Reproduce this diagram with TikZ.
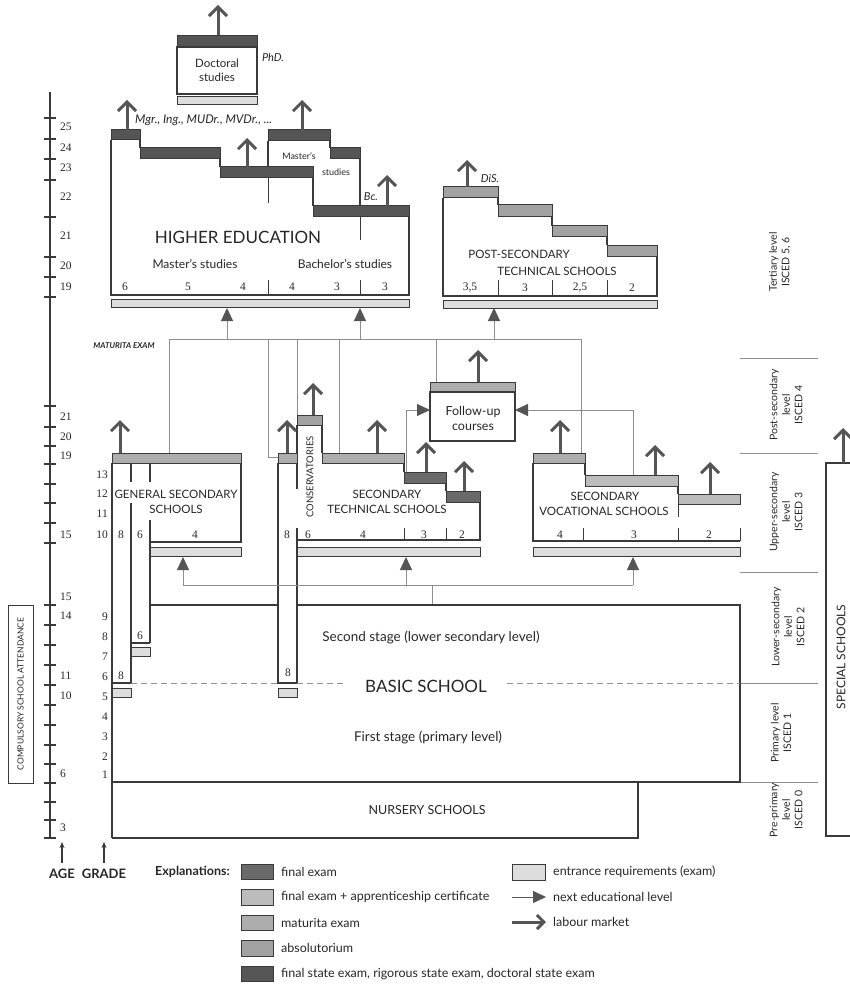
\documentclass[tikz,border=0pt]{standalone}
\usepackage{fontspec}
\setmainfont{Lato}
\newfontfamily\numfont{Liberation Serif}
\usetikzlibrary{arrows.meta}
\definecolor{ink}{HTML}{3A3A3A}
\definecolor{txt}{HTML}{262626}
\definecolor{linkgray}{HTML}{8E8E8E}
\definecolor{tipgray}{HTML}{555555}
\definecolor{cFinal}{HTML}{6A6A6A}
\definecolor{cAppr}{HTML}{BCBCBC}
\definecolor{cMat}{HTML}{ADADAD}
\definecolor{cAbs}{HTML}{A2A2A2}
\definecolor{cState}{HTML}{555555}
\definecolor{cEntr}{HTML}{DDDDDD}
\newcommand\sz[2]{\fontsize{#1}{#2}\selectfont}

\begin{document}
\begin{tikzpicture}[x=1pt,y=-1pt,
  boxline/.style={draw=ink,line width=1.5pt},
  thinline/.style={draw=ink,line width=0.8pt},
  exambar/.style={draw=ink,line width=1pt},
  link/.style={draw=linkgray,line width=1pt},
  nextlvl/.style={link,-{Triangle[length=13pt,width=12pt,color=tipgray]}},
  labour/.style={draw=tipgray,line width=3pt,-{Straight Barb[length=9pt,width=18pt,line width=3pt]}},
  lbl/.style={text=txt,inner sep=0pt},
  numtxt/.style={lbl,font=\numfont\sz{11.5}{13}},
  caps/.style={lbl,font=\sz{11.5}{15},align=center},
  isced/.style={lbl,font=\sz{10.5}{12.5},align=center,rotate=90},
  keytxt/.style={lbl,font=\sz{12.5}{14},anchor=west},
  divider/.style={draw=linkgray,line width=0.9pt},
]
\useasboundingbox (0,0) rectangle (850,984);

% ---------- age axis and grade numbers ----------
\draw[ink,line width=1.2pt] (50,92) -- (50,838);
\foreach \yy in {118,139,159,180,217,257,277,297,406,427,446,464,484,503,523,543,605,625,645,665,685,705,725,745,764,783,802,820,838}
  \draw[ink,line width=1.4pt] (44,\yy) -- (56,\yy);
\foreach \lab/\yy in {25/127,24/148,23/168,22/197,21/236,20/266,19/287,21/417,20/437,19/456,15/535,15/597,14/616,11/676,10/696,6/774,3/828}
  \node[numtxt,anchor=west] (age-\yy) at (60,\yy) {\lab};
\foreach \lab/\yy in {13/475,12/494,11/514,10/535,9/617,8/637,7/657,6/677,5/697,4/717,3/737,2/757,1/775}
  \node[numtxt,anchor=east] (grade-\yy) at (108,\yy) {\lab};

% compulsory attendance frame
\draw[thinline] (8,605) rectangle (33,783);
\node[lbl,font=\sz{8.5}{10},rotate=90] (compulsory) at (20.5,694) {COMPULSORY SCHOOL ATTENDANCE};

% axis captions
\coordinate (ageFoot) at (62,863);
\coordinate (ageTip) at (62,842);
\coordinate (gradeFoot) at (104,863);
\coordinate (gradeTip) at (104,842);
\draw[ink,line width=1.2pt,-{Stealth[length=6pt,width=5pt]}] (ageFoot) -- (ageTip);
\draw[ink,line width=1.2pt,-{Stealth[length=6pt,width=5pt]}] (gradeFoot) -- (gradeTip);
\node[lbl,font=\bfseries\sz{13}{15}] (ageCap) at (62,874) {AGE};
\node[lbl,font=\bfseries\sz{13}{15}] (gradeCap) at (104,874) {GRADE};

% ---------- doctoral studies ----------
\coordinate (docTop) at (218,36);
\coordinate (docOut) at (218,5);
\draw[labour] (docTop) -- (docOut);
\filldraw[exambar,fill=cState] (177,36) rectangle (257,47);
\draw[boxline] (177,47) rectangle (257,94);
\filldraw[exambar,fill=cEntr] (177,97) rectangle (257,105);
\node[lbl,font=\sz{11.5}{14},align=center] (doc) at (217,70) {Doctoral\\studies};
\node[lbl,font=\itshape\sz{11}{13}] (phd) at (273,57) {PhD.};

% ---------- higher education ----------
\draw[boxline] (111,140) -- (111,295) -- (409,295) -- (409,217);
\draw[boxline] (140,140)--(140,148) (220,159)--(220,167) (313,178)--(313,206)
  (268,141)--(268,167) (330,141)--(330,148) (360,159)--(360,206);
\draw[thinline] (268,178)--(268,203) (360,217)--(360,240) (268,280)--(268,295) (360,280)--(360,295);
\filldraw[exambar,fill=cState] (111,130) rectangle (140,140);
\filldraw[exambar,fill=cState] (140,148) rectangle (220,159);
\filldraw[exambar,fill=cState] (220,167) rectangle (313,178);
\filldraw[exambar,fill=cState] (313,206) rectangle (409,217);
\filldraw[exambar,fill=cState] (268,130) rectangle (330,141);
\filldraw[exambar,fill=cState] (330,148) rectangle (360,159);
\filldraw[exambar,fill=cEntr] (111,299) rectangle (409,307);
\draw[labour] (127,130) -- (127,100);
\draw[labour] (247,167) -- (247,138);
\draw[labour] (302,130) -- (302,100);
\draw[labour] (387,206) -- (387,175);
\node[lbl,font=\itshape\sz{12}{14},anchor=west] (degrees) at (135,120) {Mgr., Ing., MUDr., MVDr., ...};
\node[lbl,font=\sz{9}{10}] (mastersA) at (299,156) {Master’s};
\node[lbl,font=\sz{9}{10}] (mastersB) at (336,172) {studies};
\node[lbl,font=\itshape\sz{11}{13}] (bc) at (371,197) {Bc.};
\node[lbl,font=\sz{17}{20}] (he) at (238,237) {HIGHER EDUCATION};
\node[lbl,font=\sz{12}{14}] (heM) at (195,264) {Master’s studies};
\node[lbl,font=\sz{12}{14}] (heB) at (345,264) {Bachelor’s studies};
\foreach \lab/\xx in {6/125,5/188,4/243,4/292,3/337,3/385}
  \node[numtxt] (he-\xx) at (\xx,287) {\lab};

% ---------- post-secondary technical schools ----------
\draw[boxline] (443,198)--(443,296)--(657,296)--(657,256);
\draw[boxline] (498,198)--(498,205) (552,217)--(552,226) (607,237)--(607,245);
\draw[thinline] (498,280)--(498,296) (552,280)--(552,296) (607,280)--(607,296);
\filldraw[exambar,fill=cAbs] (443,187) rectangle (498,198);
\filldraw[exambar,fill=cAbs] (498,205) rectangle (552,217);
\filldraw[exambar,fill=cAbs] (552,226) rectangle (607,237);
\filldraw[exambar,fill=cAbs] (607,245) rectangle (657,256);
\filldraw[exambar,fill=cEntr] (443,300) rectangle (657,308);
\draw[labour] (467,187) -- (467,160);
\node[lbl,font=\itshape\sz{11}{13}] (dis) at (490,179) {DiS.};
\node[caps] (pstA) at (519,254) {POST-SECONDARY};
\node[caps] (pstB) at (557,271) {TECHNICAL SCHOOLS};
\foreach \lab/\xx in {{3,5}/470,3/525,{2,5}/580,2/632}
  \node[numtxt] (pst-\xx) at (\xx,288) {\lab};

% ---------- level labels on the right ----------
\foreach \yy in {358,453,572}
  \draw[divider] (740,\yy) -- (818,\yy);
\draw[divider] (740,683) -- (818,683);
\draw[divider] (740,782) -- (818,782);
\node[isced] (isced56) at (780,262) {Tertiary level\\ISCED 5, 6};
\node[isced] (isced4) at (786,405) {Post-secondary\\level\\ISCED 4};
\node[isced] (isced3) at (786,512) {Upper-secondary\\level\\ISCED 3};
\node[isced] (isced2) at (788,627) {Lower-secondary\\level\\ISCED 2};
\node[isced] (isced1) at (781,733) {Primary level\\ISCED 1};
\node[isced] (isced0) at (786,810) {Pre-primary\\level\\ISCED 0};

% ---------- maturita links to tertiary level ----------
\coordinate (mL) at (169,339);
\coordinate (mR) at (581,339);
\draw[link] (mL) -- (mR);
\draw[link] (169,453) -- (mL);
\draw[nextlvl] (227,339) -- (227,308);
\draw[link] (268,339) -- (268,457) -- (278,457);
\draw[link] (297,339) -- (297,415);
\draw[link] (339,339) -- (339,453);
\draw[nextlvl] (360,339) -- (360,308);
\draw[link] (436,339) -- (436,382);
\draw[nextlvl] (494,339) -- (494,308);
\draw[link] (mR) -- (581,453);
\node[lbl,font=\bfseries\itshape\sz{8}{9}] (maturita) at (124,346) {MATURITA EXAM};

% ---------- general secondary schools ----------
\filldraw[exambar,fill=cMat] (112,453) rectangle (241,463);
\draw[boxline] (241,463)--(241,542)--(150,542);
\draw[boxline] (112,463)--(112,838);
\draw[boxline] (131,463)--(131,482) (131,503)--(131,683) (112,683)--(131,683);
\draw[boxline] (150,463)--(150,482) (150,520)--(150,643) (131,643)--(150,643);
\filldraw[exambar,fill=cEntr] (150,547) rectangle (241,556);
\filldraw[exambar,fill=cEntr] (131,647) rectangle (150,656);
\filldraw[exambar,fill=cEntr] (112,688) rectangle (131,697);
\draw[labour] (120,453) -- (120,420);
\node[caps] (gsA) at (176,494) {GENERAL SECONDARY};
\node[caps] (gsB) at (176,509) {SCHOOLS};
\node[numtxt] (gs8) at (121,535) {8};
\node[numtxt] (gs6) at (140,535) {6};
\node[numtxt] (gs4) at (195,535) {4};
\node[numtxt] (bs8a) at (121,676) {8};
\node[numtxt] (bs6) at (140,636) {6};

% ---------- conservatories and secondary technical schools ----------
\draw[boxline] (278,463)--(278,683)--(297,683);
\draw[boxline] (297,425)--(297,489) (297,528)--(297,683) (322,425)--(322,453);
\draw[boxline] (404,463)--(404,472) (446,483)--(446,491) (480,502)--(480,540)--(297,540);
\draw[thinline] (404,528)--(404,540) (446,528)--(446,540);
\filldraw[exambar,fill=cMat] (278,453) rectangle (297,463);
\filldraw[exambar,fill=cAbs] (297,415) rectangle (322,425);
\filldraw[exambar,fill=cMat] (322,453) rectangle (404,463);
\filldraw[exambar,fill=cFinal] (404,472) rectangle (446,483);
\filldraw[exambar,fill=cFinal] (446,491) rectangle (480,502);
\filldraw[exambar,fill=cEntr] (297,547) rectangle (480,556);
\filldraw[exambar,fill=cEntr] (278,688) rectangle (297,697);
\draw[labour] (287,453) -- (287,420);
\draw[labour] (313,415) -- (313,383);
\draw[labour] (377,453) -- (377,420);
\draw[labour] (426,472) -- (426,442);
\draw[labour] (464,491) -- (464,461);
\node[lbl,font=\sz{9.5}{11},rotate=90] (cons) at (310,477) {CONSERVATORIES};
\node[caps] (stA) at (387,494) {SECONDARY};
\node[caps] (stB) at (387,509) {TECHNICAL SCHOOLS};
\foreach \lab/\xx in {8/287,6/308,4/363,3/424,2/462}
  \node[numtxt] (st-\xx) at (\xx,535) {\lab};
\node[numtxt] (bs8b) at (288,673) {8};

% ---------- follow-up courses ----------
\filldraw[exambar,fill=cMat] (430,382) rectangle (515,392);
\draw[boxline] (430,392) rectangle (515,441);
\node[lbl,font=\sz{12.5}{15},align=center] (follow) at (473,418) {Follow-up\\courses};
\draw[labour] (478,382) -- (478,350);
\draw[nextlvl] (406,472) -- (406,410) -- (430,410);
\draw[nextlvl] (633,475) -- (633,410) -- (515,410);

% ---------- secondary vocational schools ----------
\draw[boxline] (533,463)--(533,541)--(740,541);
\draw[boxline] (585,463)--(585,475) (678,486)--(678,494);
\draw[thinline] (583,528)--(583,541) (678,504)--(678,517) (678,528)--(678,541) (740,528)--(740,541);
\filldraw[exambar,fill=cMat] (533,453) rectangle (585,463);
\filldraw[exambar,fill=cAppr] (585,475) rectangle (678,486);
\filldraw[exambar,fill=cAppr] (678,494) rectangle (740,504);
\filldraw[exambar,fill=cEntr] (533,547) rectangle (740,556);
\draw[labour] (560,453) -- (560,420);
\draw[labour] (655,475) -- (655,445);
\draw[labour] (710,494) -- (710,462);
\node[caps] (svA) at (605,496) {SECONDARY};
\node[caps] (svB) at (604,511) {VOCATIONAL SCHOOLS};
\foreach \lab/\xx in {4/560,3/634,2/709}
  \node[numtxt] (sv-\xx) at (\xx,535) {\lab};

% ---------- basic school to upper secondary ----------
\coordinate (bsOut) at (432,605);
\coordinate (bsFork) at (432,585);
\draw[link] (bsOut) -- (bsFork);
\draw[link] (183,585) -- (633,585);
\draw[nextlvl] (183,585) -- (183,557);
\draw[nextlvl] (406,585) -- (406,557);
\draw[nextlvl] (633,585) -- (633,557);

% ---------- basic school and nursery schools ----------
\draw[boxline] (150,605)--(278,605) (297,605)--(740,605)--(740,782)--(112,782);
\draw[boxline] (638,782)--(638,838)--(112,838);
\draw[link,dash pattern=on 6pt off 4pt] (131,683)--(278,683) (297,683)--(343,683) (507,683)--(740,683);
\node[lbl,font=\sz{13.5}{15}] (second) at (431,637) {Second stage (lower secondary level)};
\node[lbl,font=\sz{17}{20}] (basic) at (426,686) {BASIC SCHOOL};
\node[lbl,font=\sz{13.5}{15}] (first) at (428,737) {First stage (primary level)};
\node[lbl,font=\sz{12.5}{14}] (nursery) at (427,810) {NURSERY SCHOOLS};

% ---------- special schools ----------
\draw[boxline] (852,463) -- (826,463) -- (826,836) -- (852,836);
\draw[labour] (843,463) -- (843,428);
\node[lbl,font=\sz{12}{14},rotate=90] (special) at (841,657) {SPECIAL SCHOOLS};

% ---------- key ----------
\node[lbl,font=\bfseries\sz{12.5}{14},anchor=west] (expl) at (155,872) {Explanations:};
\filldraw[exambar,fill=cFinal] (241,864) rectangle (273,879);
\filldraw[exambar,fill=cAppr] (241,889) rectangle (273,905);
\filldraw[exambar,fill=cMat] (241,915) rectangle (273,930);
\filldraw[exambar,fill=cAbs] (241,940) rectangle (273,956);
\filldraw[exambar,fill=cState] (241,966) rectangle (273,981);
\node[keytxt] (k1) at (281,872) {final exam};
\node[keytxt] (k2) at (281,897) {final exam + apprenticeship certificate};
\node[keytxt] (k3) at (281,923) {maturita exam};
\node[keytxt] (k4) at (281,948) {absolutorium};
\node[keytxt] (k5) at (281,974) {final state exam, rigorous state exam, doctoral state exam};
\filldraw[exambar,fill=cEntr] (512,864) rectangle (545,880);
\coordinate (keyA1) at (512,897);
\coordinate (keyA2) at (546,897);
\coordinate (keyB1) at (512,922);
\coordinate (keyB2) at (546,922);
\draw[nextlvl,draw=tipgray] (keyA1) -- (keyA2);
\draw[labour,-{Straight Barb[length=7pt,width=14pt,line width=3pt]}] (keyB1) -- (keyB2);
\node[keytxt] (k6) at (553,872) {entrance requirements (exam)};
\node[keytxt] (k7) at (553,897) {next educational level};
\node[keytxt] (k8) at (553,922) {labour market};
\end{tikzpicture}
\end{document}
